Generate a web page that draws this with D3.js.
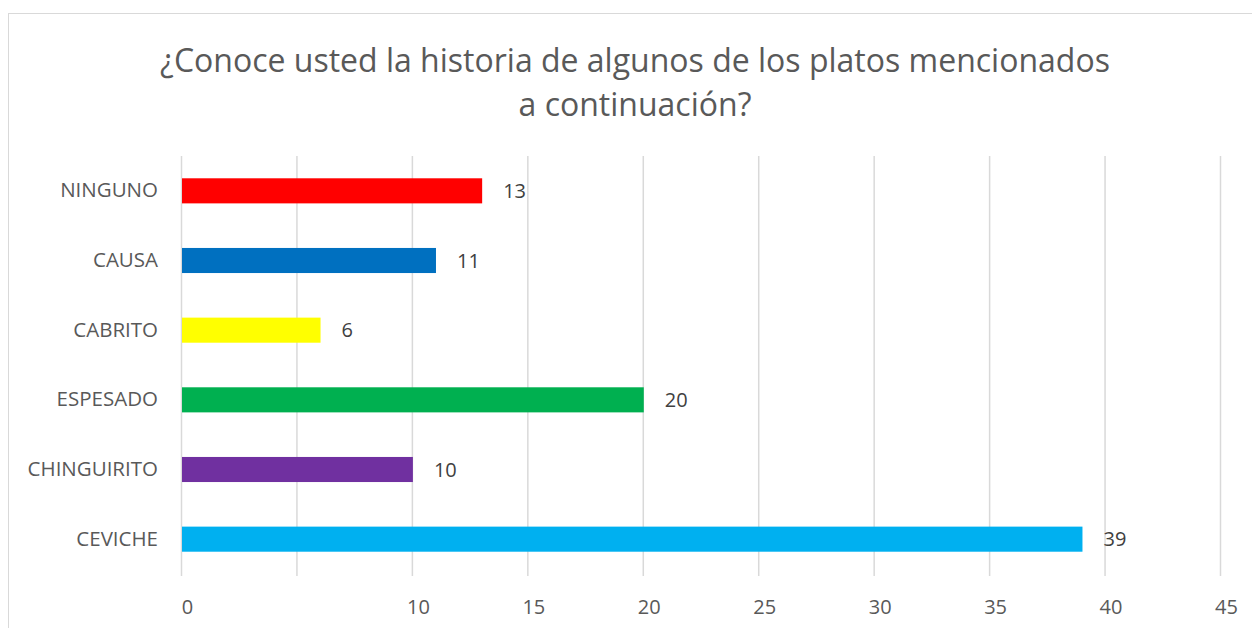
<!DOCTYPE html>
<html>
<head>
<meta charset="utf-8">
<script src="https://cdn.jsdelivr.net/npm/d3@7"></script>
<style>
  body { margin: 0; background: #fff; }
  svg { display: block; font-family: "Open Sans", sans-serif; }
</style>
</head>
<body>
<svg id="chart"></svg>
<script>
const titleLines = ["¿Conoce usted la historia de algunos de los platos mencionados", "a continuación?"];
const categories = ["NINGUNO", "CAUSA", "CABRITO", "ESPESADO", "CHINGUIRITO", "CEVICHE"];
const values = [13, 11, 6, 20, 10, 39];
const colors = ["#ff0000", "#0070c0", "#ffff00", "#00b050", "#7030a0", "#00b0f0"];
const xTicks = [0, 5, 10, 15, 20, 25, 30, 35, 40, 45];
const xTickLabels = ["0", "", "10", "15", "20", "25", "30", "35", "40", "45"];

const w = 1252, h = 628;
const plotLeft = 181, plotRight = 1220, plotTop = 156, plotBottom = 574;

const svg = d3.select("#chart").attr("width", w).attr("height", h);

// chart frame
svg.append("rect")
   .attr("x", 8.5).attr("y", 13.5)
   .attr("width", w).attr("height", h)
   .attr("fill", "#fff")
   .attr("stroke", "#d9d9d9");

// title
svg.append("g").selectAll("text")
   .data(titleLines)
   .join("text")
   .attr("x", 635)
   .attr("y", (d, i) => 72 + i * 44)
   .attr("text-anchor", "middle")
   .attr("font-size", 32)
   .attr("fill", "#595959")
   .text(d => d);

const x = d3.scaleLinear().domain([0, 45]).range([plotLeft, plotRight]);
const y = d3.scaleBand().domain(categories).range([plotTop, plotBottom]).paddingInner(0.64).paddingOuter(0.32);

// gridlines
svg.append("g").selectAll("line")
   .data(xTicks)
   .join("line")
   .attr("x1", d => x(d) + 0.5).attr("x2", d => x(d) + 0.5)
   .attr("y1", plotTop).attr("y2", plotBottom + 2)
   .attr("stroke", "#d9d9d9")
   .attr("stroke-width", 1.5);

// x axis labels (sit a little right of their gridlines, as in the source)
const xAxis = d3.axisBottom(x)
   .tickValues(xTicks)
   .tickSize(0)
   .tickPadding(26)
   .tickFormat((d, i) => xTickLabels[i]);

svg.append("g")
   .attr("transform", `translate(6, ${plotBottom})`)
   .call(xAxis)
   .call(g => g.select(".domain").remove())
   .call(g => g.selectAll("text").attr("font-size", 20).attr("fill", "#595959").attr("font-family", "Open Sans"));

// y axis labels
const yAxis = d3.axisLeft(y).tickSize(0).tickPadding(23);

svg.append("g")
   .attr("transform", `translate(${plotLeft}, 0)`)
   .call(yAxis)
   .call(g => g.select(".domain").remove())
   .call(g => g.selectAll("text").attr("font-size", 20.5).attr("fill", "#595959").attr("font-family", "Open Sans"));

// bars
svg.append("g").selectAll("rect")
   .data(values)
   .join("rect")
   .attr("x", x(0) + 1)
   .attr("y", (d, i) => y(categories[i]))
   .attr("width", d => x(d) - x(0))
   .attr("height", y.bandwidth())
   .attr("fill", (d, i) => colors[i]);

// value labels
svg.append("g").selectAll("text")
   .data(values)
   .join("text")
   .attr("x", d => x(d) + 22)
   .attr("y", (d, i) => y(categories[i]) + y.bandwidth() / 2)
   .attr("dy", "0.36em")
   .attr("font-size", 20)
   .attr("fill", "#404040")
   .text(d => d);
</script>
</body>
</html>
